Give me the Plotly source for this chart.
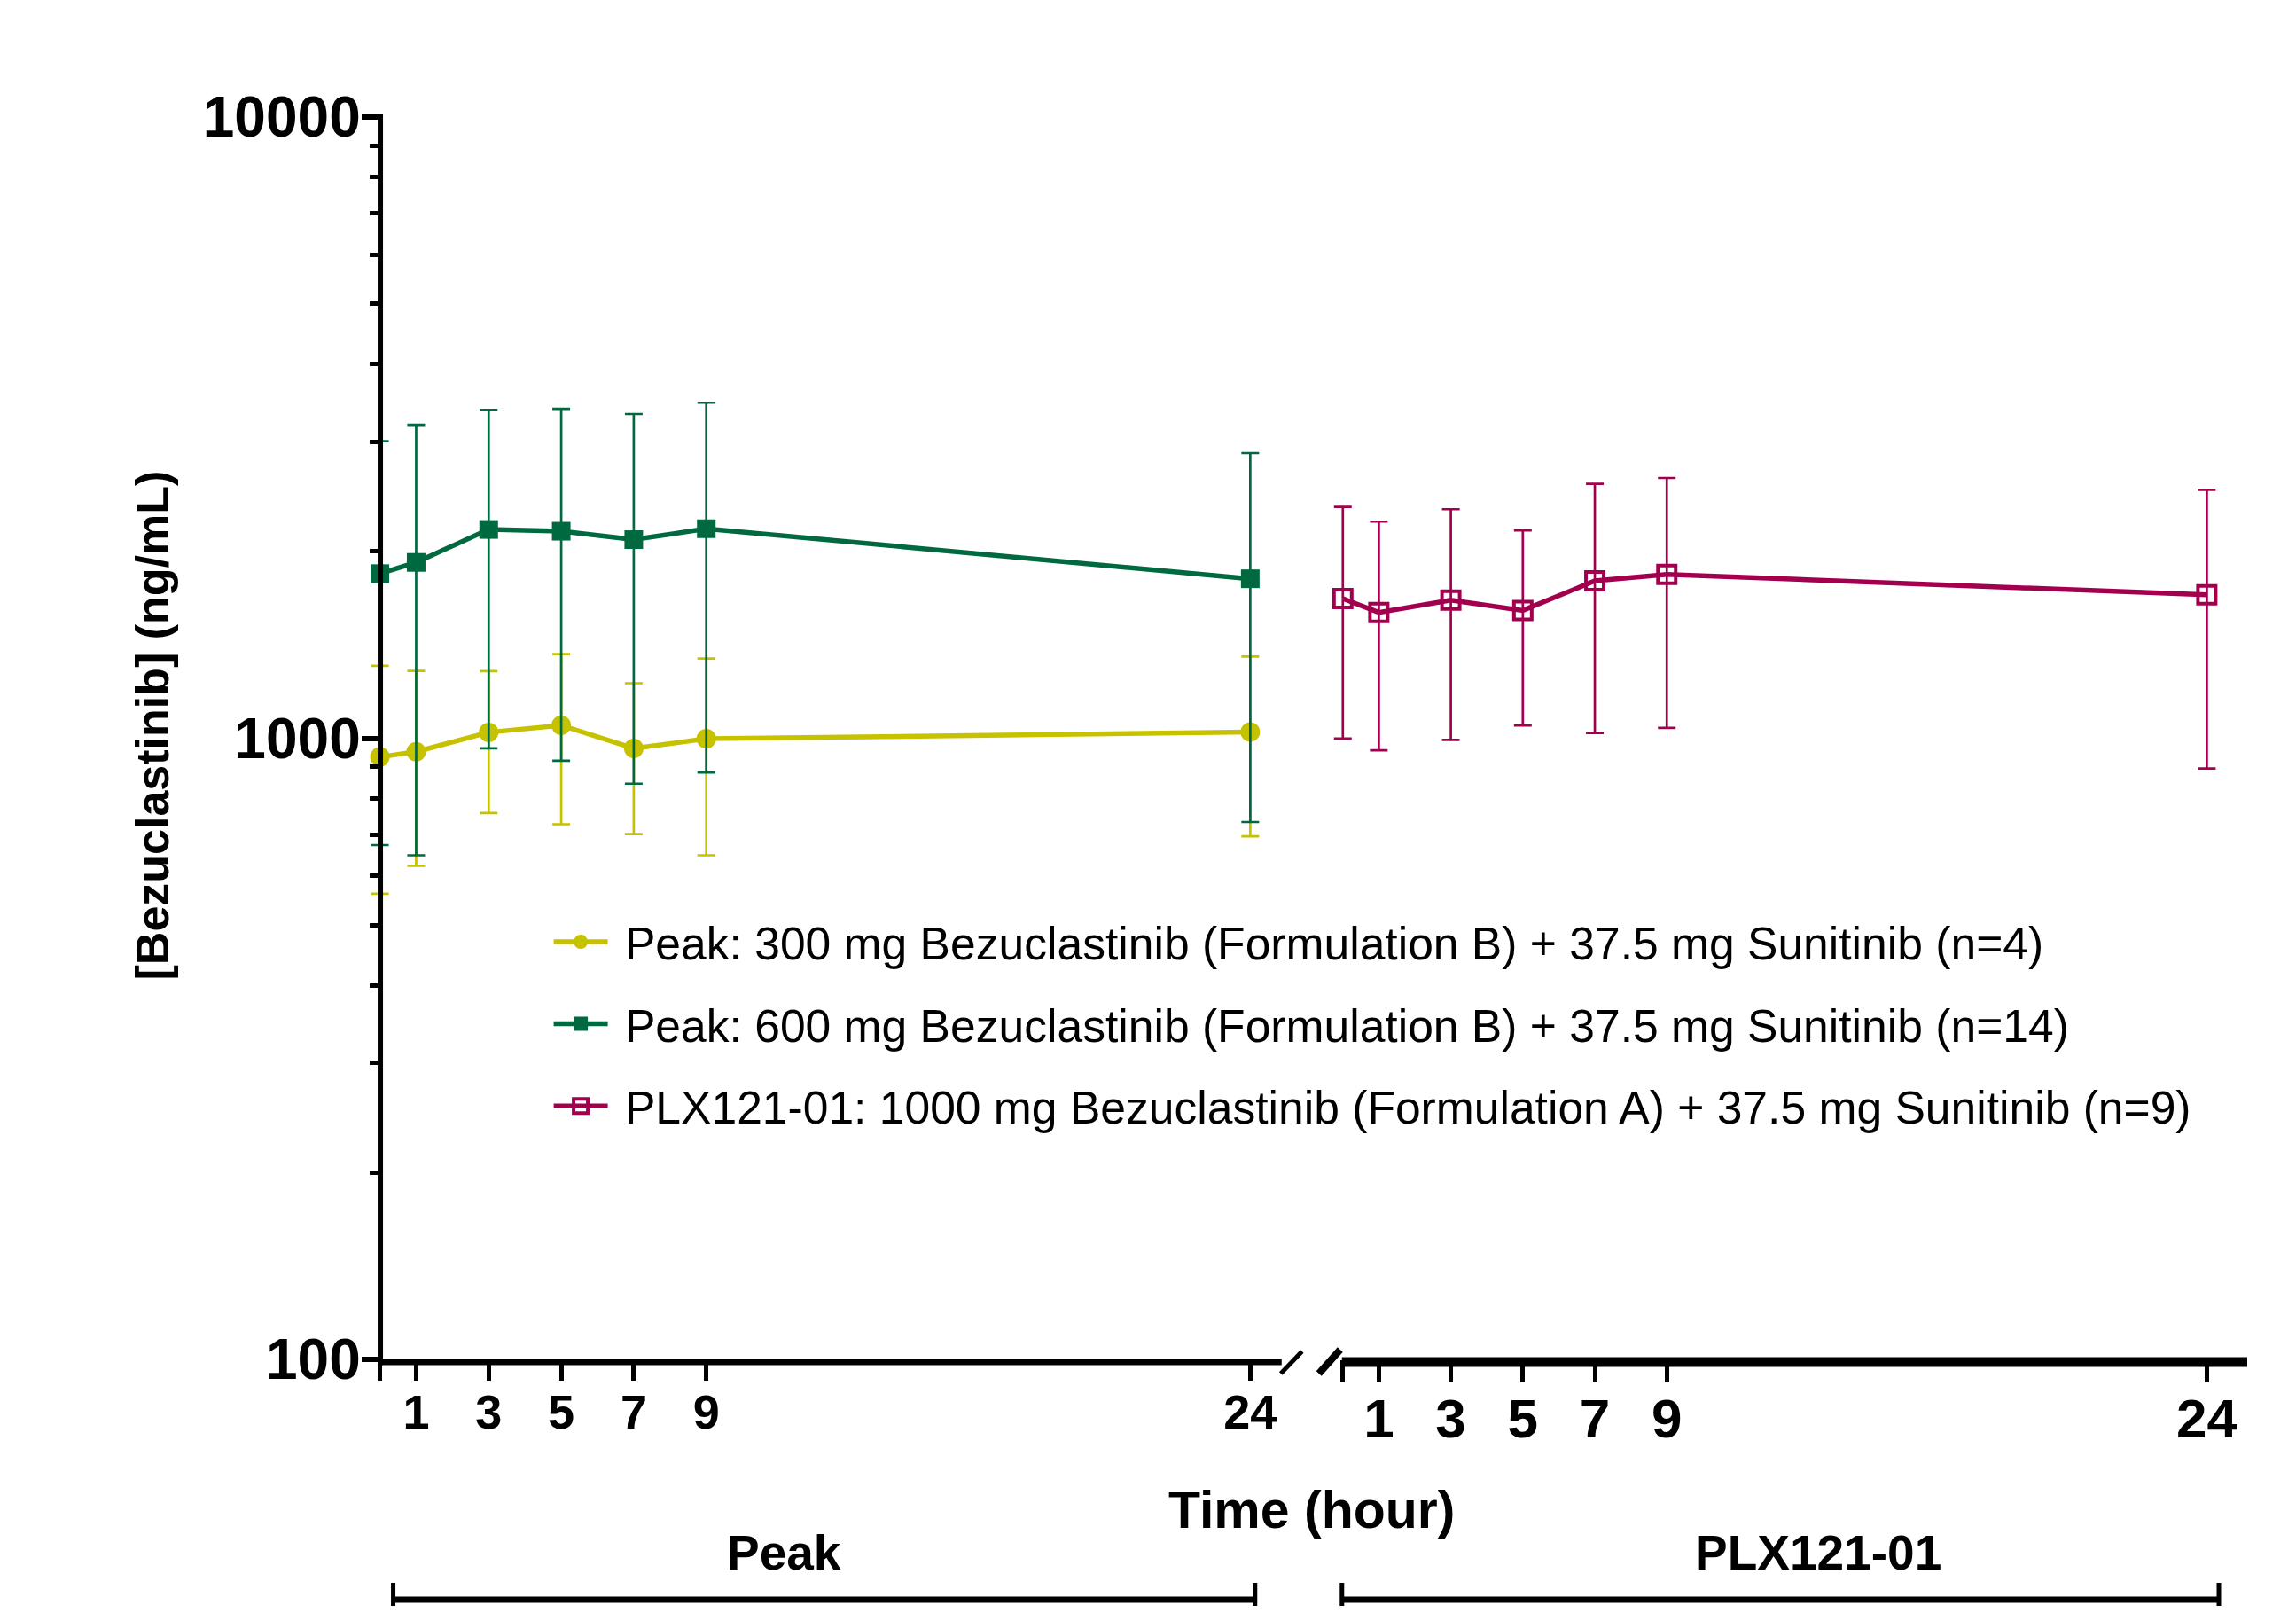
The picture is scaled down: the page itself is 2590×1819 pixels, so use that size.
import plotly.graph_objects as go

# ---------------- data ----------------
time_peak = [0, 1, 3, 5, 7, 9, 24]
time_plx = [0, 1, 3, 5, 7, 9, 24]

peak300_mean = [933, 951, 1022, 1049, 963, 998, 1023]
peak300_upper = [1308, 1283, 1282, 1366, 1226, 1344, 1354]
peak300_lower = [562, 623, 758, 727, 701, 648, 695]

peak600_mean = [1841, 1919, 2168, 2154, 2088, 2174, 1806]
peak600_upper = [3007, 3194, 3375, 3389, 3325, 3467, 2877]
peak600_lower = [673, 648, 963, 920, 845, 881, 733]

plx_mean = [1678, 1594, 1669, 1606, 1792, 1835, 1702]
plx_upper = [2357, 2232, 2337, 2161, 2567, 2624, 2512]
plx_lower = [999, 956, 994, 1048, 1019, 1039, 894]

names = [
    "Peak: 300 mg Bezuclastinib (Formulation B) + 37.5 mg Sunitinib (n=4)",
    "Peak: 600 mg Bezuclastinib (Formulation B) + 37.5 mg Sunitinib (n=14)",
    "PLX121-01: 1000 mg Bezuclastinib (Formulation A) + 37.5 mg Sunitinib (n=9)",
]
x_tickvals = [0, 1, 3, 5, 7, 9, 24]
x_ticktext = ["", "1", "3", "5", "7", "9", "24"]
y_tickvals = [100, 1000, 10000]
y_ticktext = ["100", "1000", "10000"]
y_minor = [v * m for v in (100, 1000) for m in range(2, 10)]

# ---------------- styling ----------------
YELLOW = "#C6C200"
GREEN = "#00693F"
CRIMSON = "#A2004E"
FONT = "Liberation Sans, Arial, sans-serif"

OFF = 8                      # default page margin of the html body
W, H = 2590 - 2 * OFF, 1819 - 2 * OFF

S1 = 40.9                    # px per hour, left panel
S2 = 40.6                    # px per hour, right panel
PAD = 0.6                    # hours of padding left of t=0 (avoids clipping)
X0_LEFT, X_END_LEFT = 429, 1446      # page px of t=0 / end of left axis
X0_RIGHT, X_END_RIGHT = 1515, 2535   # page px of t=0 / end of right axis
L = X0_LEFT - PAD * S1
R = X_END_RIGHT
T, B = 132, 1533


def px(xp):
    return (xp - L) / (R - L)


def py(yp):
    return (B - yp) / (B - T)


def err(mean, up, lo):
    return dict(type="data", symmetric=False,
                array=[u - m for u, m in zip(up, mean)],
                arrayminus=[m - l for m, l in zip(mean, lo)],
                thickness=2.7, width=10)


fig = go.Figure()

fig.add_trace(go.Scatter(
    x=time_peak, y=peak300_mean, name="\u00a0" + names[0], mode="lines+markers",
    line=dict(color=YELLOW, width=5.5),
    marker=dict(symbol="circle", size=22, color=YELLOW),
    error_y=dict(err(peak300_mean, peak300_upper, peak300_lower), color=YELLOW),
    xaxis="x", yaxis="y", cliponaxis=False, legendgroup="a"))

fig.add_trace(go.Scatter(
    x=time_peak, y=peak600_mean, name="\u00a0" + names[1], mode="lines+markers",
    line=dict(color=GREEN, width=5.5),
    marker=dict(symbol="square", size=21, color=GREEN),
    error_y=dict(err(peak600_mean, peak600_upper, peak600_lower), color=GREEN),
    xaxis="x", yaxis="y", cliponaxis=False, legendgroup="b"))

fig.add_trace(go.Scatter(
    x=time_plx, y=plx_mean, name="\u00a0" + names[2], mode="lines+markers",
    line=dict(color=CRIMSON, width=5.5),
    marker=dict(symbol="square-open", size=20, color=CRIMSON, line=dict(width=4, color=CRIMSON)),
    error_y=dict(err(plx_mean, plx_upper, plx_lower), color=CRIMSON),
    xaxis="x2", yaxis="y", cliponaxis=False, legendgroup="c"))

xaxis_common = dict(
    tickmode="array", tickvals=x_tickvals, ticktext=x_ticktext,
    ticks="outside", tickwidth=5, tickcolor="black",
    showline=False, showgrid=False, zeroline=False,
    anchor="y",
)

fig.update_layout(
    width=W, height=H,
    margin=dict(l=L - OFF, r=W - (R - OFF), t=T - OFF, b=H - (B - OFF)),
    paper_bgcolor="white", plot_bgcolor="white",
    font=dict(family=FONT, color="black"),
    showlegend=True,
    legend=dict(
        x=px(620), y=py(1022), xanchor="left", yanchor="top",
        font=dict(size=51.6, family=FONT, color="black"),
        bgcolor="rgba(0,0,0,0)", traceorder="grouped", tracegroupgap=22.5,
        itemwidth=61,
    ),
    xaxis=dict(xaxis_common, domain=[0, px(X_END_LEFT)],
               range=[-PAD, (X_END_LEFT - X0_LEFT) / S1], ticklen=23,
               ticklabelstandoff=-11,
               tickfont=dict(size=54, family=FONT, weight="bold")),
    xaxis2=dict(xaxis_common, domain=[px(X0_RIGHT - PAD * S2), 1],
                range=[-PAD, (X_END_RIGHT - X0_RIGHT) / S2], ticklen=25,
                ticklabelstandoff=-12,
                tickfont=dict(size=62, family=FONT, weight="bold")),
    yaxis=dict(
        type="log", range=[2, 4], tickmode="array",
        tickvals=y_tickvals, ticktext=y_ticktext,
        anchor="free", position=px(X0_LEFT), side="left",
        ticks="outside", ticklen=21, tickwidth=6, tickcolor="black",
        showline=False, showgrid=False, zeroline=False, ticklabelstandoff=-12,
        tickfont=dict(size=64, family=FONT, weight="bold"),
        minor=dict(tickvals=y_minor, ticks="outside", ticklen=12, tickwidth=5,
                   tickcolor="black", showgrid=False),
    ),
)

shapes = []
# axis lines
shapes.append(dict(type="line", xref="paper", yref="paper",
                   x0=px(429.5), y0=py(1539.5), x1=px(429.5), y1=py(129),
                   line=dict(color="black", width=6)))
shapes.append(dict(type="line", xref="paper", yref="paper",
                   x0=px(426.5), y0=py(1536), x1=px(X_END_LEFT), y1=py(1536),
                   line=dict(color="black", width=7)))
shapes.append(dict(type="line", xref="paper", yref="paper",
                   x0=px(1514), y0=py(1536), x1=px(X_END_RIGHT), y1=py(1536),
                   line=dict(color="black", width=11)))
# axis break marks
shapes.append(dict(type="line", xref="paper", yref="paper",
                   x0=px(1445), y0=py(1549), x1=px(1469), y1=py(1524),
                   line=dict(color="black", width=5)))
shapes.append(dict(type="line", xref="paper", yref="paper",
                   x0=px(1488), y0=py(1549), x1=px(1512), y1=py(1522),
                   line=dict(color="black", width=8)))
# study brackets
for a, b in ((444, 1416), (1514, 2503)):
    shapes.append(dict(type="line", xref="paper", yref="paper",
                       x0=px(a), y0=py(1804), x1=px(b), y1=py(1804),
                       line=dict(color="black", width=7)))
    for c in (a, b):
        shapes.append(dict(type="line", xref="paper", yref="paper",
                           x0=px(c), y0=py(1785), x1=px(c), y1=py(1830),
                           line=dict(color="black", width=5)))
fig.update_layout(shapes=shapes)

ann_font = dict(family=FONT, color="black", weight="bold")
fig.add_annotation(text="Time (hour)", xref="paper", yref="paper",
                   x=px(1480), y=py(1703), showarrow=False,
                   xanchor="center", yanchor="middle",
                   font=dict(ann_font, size=59))
fig.add_annotation(text="Peak", xref="paper", yref="paper",
                   x=px(885), y=py(1751), showarrow=False,
                   xanchor="center", yanchor="middle",
                   font=dict(ann_font, size=55))
fig.add_annotation(text="PLX121-01", xref="paper", yref="paper",
                   x=px(2051), y=py(1751), showarrow=False,
                   xanchor="center", yanchor="middle",
                   font=dict(ann_font, size=55))
fig.add_annotation(text="[Bezuclastinib] (ng/mL)", xref="paper", yref="paper",
                   x=px(173), y=py(818), showarrow=False, textangle=-90,
                   xanchor="center", yanchor="middle",
                   font=dict(ann_font, size=52))

fig.write_html("out.html")
